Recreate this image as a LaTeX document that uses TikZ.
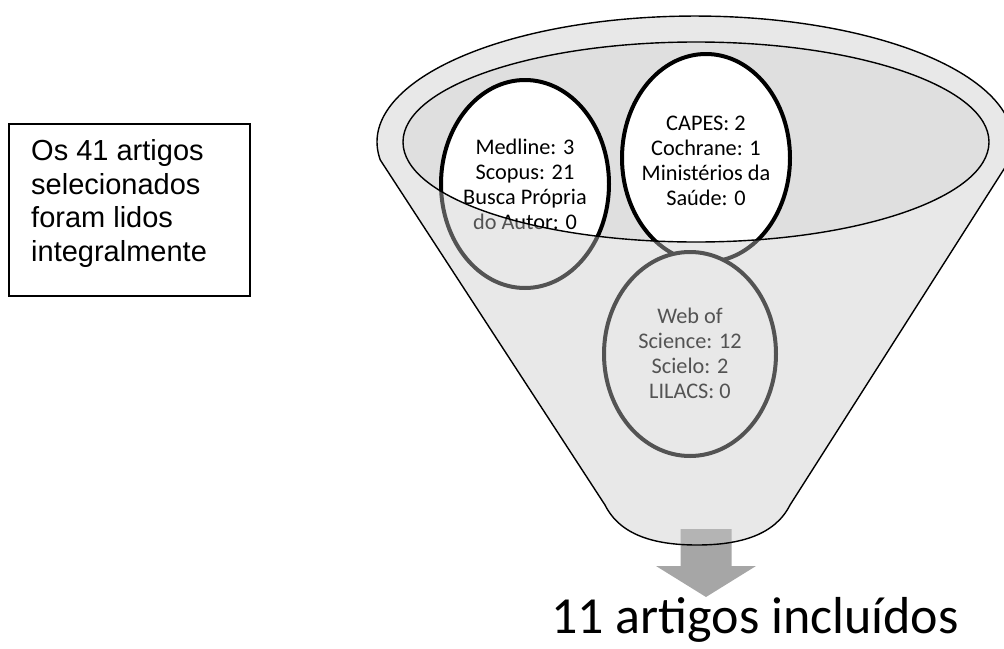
\documentclass[tikz,border=0pt]{standalone}
\usepackage{fontspec}
\setmainfont{Carlito}
\newfontfamily\arialf{Liberation Sans}
\definecolor{bowl}{RGB}{223,223,223}
\definecolor{frontgray}{RGB}{200,200,200}
\definecolor{arrowgray}{RGB}{166,166,166}
\begin{document}
\begin{tikzpicture}[x=1pt,y=-1pt,
  circ/.style={draw=black, line width=4pt, fill=white},
  ctext/.style={align=center, inner sep=0pt, font=\fontsize{22.3}{25}\selectfont},
  outline/.style={draw=black, line width=1.4pt},
  front/.style={fill=frontgray, fill opacity=0.416, even odd rule},
  notebox/.style={draw=black, line width=1.2pt, minimum width=241pt, minimum height=172pt, inner sep=0pt},
  notetext/.style={align=left, inner sep=0pt, font=\arialf\fontsize{29}{33.5}\selectfont},
]
\useasboundingbox (0,0) rectangle (1004,648);
% note box
\node[notebox] (note) at (129.5,210) {};
\node[notetext, anchor=west] (notetxt) at (31,203.5) {Os 41 artigos\\selecionados\\foram lidos\\integralmente};
% bowl (back)
\fill[bowl] (696,142) ellipse[x radius=293, y radius=100];
% arrow
\fill[arrowgray] (680.5,529) -- (731.5,529) -- (731.5,566) -- (756,566) -- (706,597) -- (656,566) -- (680.5,566) -- cycle;
% circles
\draw[circ] (525,184) ellipse[x radius=84, y radius=104];
\node[ctext] (medline) at (525,184) {Medline: 3\\Scopus: 21\\Busca Própria\\do Autor: 0};
\draw[circ] (706,158) ellipse[x radius=84, y radius=104];
\node[ctext] (capes) at (706,161) {CAPES: 2\\Cochrane: 1\\Ministérios da\\Saúde: 0};
\draw[circ] (690,354) ellipse[x radius=86, y radius=102];
\node[ctext] (web) at (690,353) {Web of\\Science: 12\\Scielo: 2\\LILACS: 0};
% funnel front (semi-transparent) with hole
\fill[front] (380.3,160) arc[start angle=171.8, end angle=368.2, x radius=318, y radius=126]
  -- (790,505) .. controls (775,535) and (740,545) .. (697,545)
  .. controls (654,545) and (620,535) .. (605,505) -- cycle
  (696,142) ellipse[x radius=293, y radius=100];
\draw[outline] (380.3,160) arc[start angle=171.8, end angle=368.2, x radius=318, y radius=126]
  -- (790,505) .. controls (775,535) and (740,545) .. (697,545)
  .. controls (654,545) and (620,535) .. (605,505) -- cycle;
\draw[outline] (696,142) ellipse[x radius=293, y radius=100];
% result
\node[anchor=base, font=\fontsize{52}{60}\selectfont] (result) at (755,633) {11 artigos incluídos};
\end{tikzpicture}
\end{document}
